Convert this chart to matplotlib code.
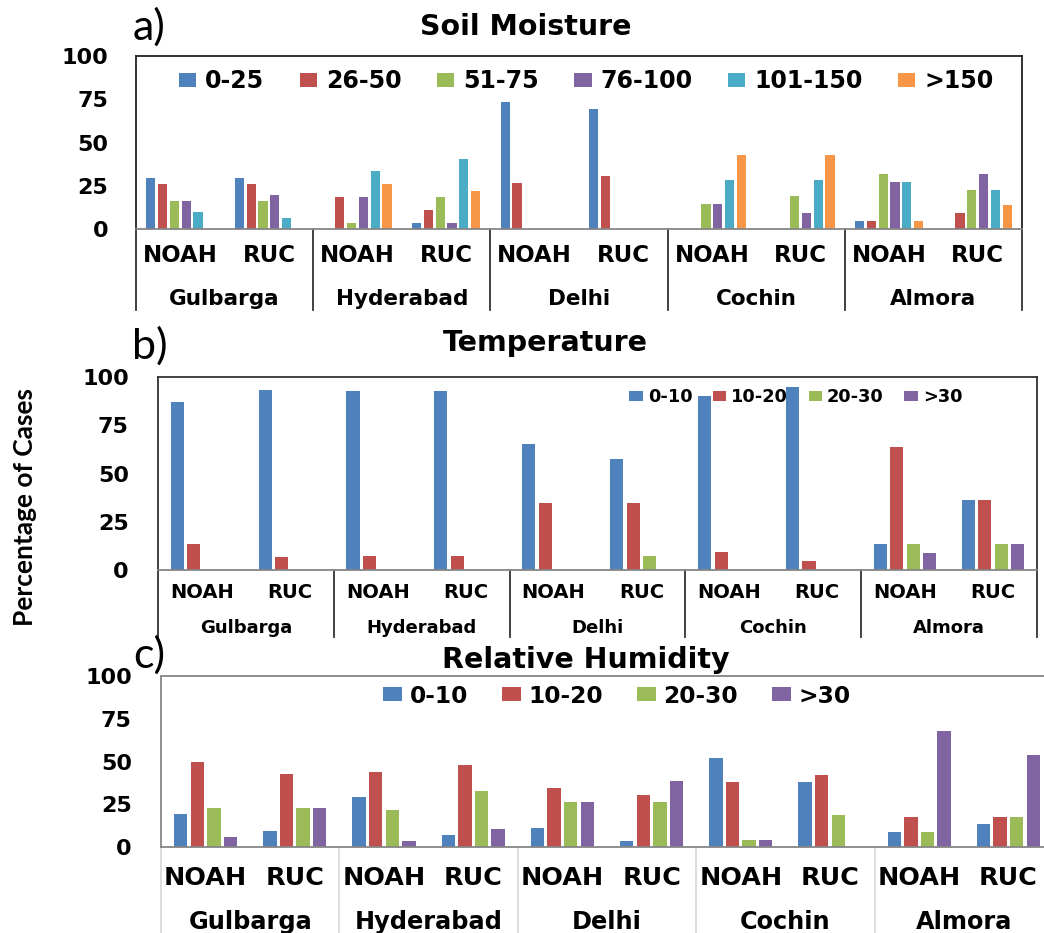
import numpy as np
import matplotlib
matplotlib.use('Agg')
import matplotlib.pyplot as plt

cities = ['Gulbarga', 'Hyderabad', 'Delhi', 'Cochin', 'Almora']
models = ['NOAH', 'RUC']

# columns: Gulbarga NOAH, Gulbarga RUC, Hyderabad NOAH, Hyderabad RUC, ...
soil_bins = ['0-25', '26-50', '51-75', '76-100', '101-150', '>150']
soil_0_25 = [29.6, 29.6, 0, 3.7, 73.3, 69.2, 0, 0, 4.5, 0]
soil_26_50 = [26.3, 26.3, 18.5, 11.1, 26.7, 30.8, 0, 0, 4.5, 9.1]
soil_51_75 = [16.3, 16.3, 3.7, 18.5, 0, 0, 14.3, 19.0, 31.8, 22.7]
soil_76_100 = [16.3, 19.6, 18.5, 3.7, 0, 0, 14.3, 9.5, 27.3, 31.8]
soil_101_150 = [9.7, 6.4, 33.3, 40.7, 0, 0, 28.6, 28.6, 27.3, 22.7]
soil_gt150 = [0, 0, 25.9, 22.2, 0, 0, 42.9, 42.9, 4.5, 13.6]

temp_bins = ['0-10', '10-20', '20-30', '>30']
temp_0_10 = [86.8, 93.1, 92.6, 92.6, 65.1, 57.6, 90.2, 95.0, 13.6, 36.4]
temp_10_20 = [13.6, 6.5, 7.4, 7.4, 34.5, 34.5, 9.5, 4.5, 63.6, 36.4]
temp_20_30 = [0, 0, 0, 0, 0, 7.4, 0, 0, 13.6, 13.6]
temp_gt30 = [0, 0, 0, 0, 0, 0, 0, 0, 9.0, 13.6]

rh_bins = ['0-10', '10-20', '20-30', '>30']
rh_0_10 = [19.4, 9.5, 29.5, 7.2, 11.2, 3.3, 52.2, 37.9, 8.9, 13.4]
rh_10_20 = [49.5, 42.7, 43.9, 47.8, 34.6, 30.7, 37.9, 42.3, 17.8, 17.8]
rh_20_30 = [22.9, 22.9, 21.7, 32.8, 26.6, 26.6, 4.3, 18.8, 8.9, 17.8]
rh_gt30 = [6.0, 22.9, 3.3, 10.5, 26.6, 38.5, 4.3, 0, 68.0, 54.0]

colors = ['#4F81BD', '#C0504D', '#9BBB59', '#8064A2', '#4BACC6', '#F79646']

W, H = 1044, 933
fig = plt.figure(figsize=(W / 100, H / 100), dpi=100)


def box(l, t, r, b):
    """pixel box -> figure fraction rect"""
    return [l / W, 1 - b / H, (r - l) / W, (b - t) / H]


def panel(rect, series, labels, step, width, tick_fs, tick_pad, cat_fs, city_fs,
          y_model, y_city, y_sep, sep_color, frame_color, leg):
    ax = fig.add_axes(rect)
    x = np.arange(len(cities) * len(models))
    n = len(series)
    for i, (vals, lab) in enumerate(zip(series, labels)):
        ax.bar(x + (i - (n - 1) / 2) * step, vals, width, color=colors[i],
               linewidth=0, label=lab, zorder=2)
    ax.set_xlim(-0.5, 9.5)
    ax.set_ylim(0, 100)
    ax.set_yticks([0, 25, 50, 75, 100])
    ax.set_xticks([])
    ax.tick_params(axis='y', length=0, pad=tick_pad, labelsize=tick_fs)
    for t in ax.get_yticklabels():
        t.set_fontweight('bold')
    for s in ['top', 'left', 'right']:
        ax.spines[s].set_color(frame_color)
        ax.spines[s].set_linewidth(1.3)
    ax.spines['bottom'].set_color('#868686')
    ax.spines['bottom'].set_linewidth(1.3)
    tr = ax.get_xaxis_transform()
    for xi in x:
        ax.text(xi, y_model, models[xi % 2], transform=tr, ha='center', va='center',
                fontsize=cat_fs, fontweight='bold', clip_on=False)
    for k, c in enumerate(cities):
        ax.text(2 * k + 0.5, y_city, c, transform=tr, ha='center', va='center',
                fontsize=city_fs, fontweight='bold', clip_on=False)
    for b in np.arange(-0.5, 10, 2):
        ax.plot([b, b], [0, y_sep], transform=tr, color=sep_color, lw=1.3, clip_on=False)
    lx, ly, lfs, hl, hh, tp, cs = leg
    ax.legend(loc='center left', bbox_to_anchor=(lx, ly), ncol=n, frameon=False,
              prop={'weight': 'bold', 'size': lfs}, handlelength=hl, handleheight=hh,
              handletextpad=tp, columnspacing=cs, borderpad=0, borderaxespad=0)
    return ax


axa = panel(box(136, 56, 1022, 229),
            [soil_0_25, soil_26_50, soil_51_75, soil_76_100, soil_101_150, soil_gt150],
            soil_bins, 0.133, 0.105, 16, 20, 16.5, 15.5,
            -0.156, -0.405, -0.468, '#333333', '#222222',
            (0.0485, 0.855, 17, 0.74, 0.55, 0.37, 1.5))

axb = panel(box(158, 377, 1037, 570),
            [temp_0_10, temp_10_20, temp_20_30, temp_gt30],
            temp_bins, 0.1877, 0.148, 16, 21, 14, 13,
            -0.119, -0.30, -0.347, '#333333', '#333333',
            (0.536, 0.895, 12.8, 0.76, 0.5, 0.28, 1.15))

axc = panel(box(161, 676, 1053, 847),
            [rh_0_10, rh_10_20, rh_20_30, rh_gt30],
            rh_bins, 0.186, 0.149, 16, 21, 18.3, 17.3,
            -0.18, -0.44, -0.6, '#d9d9d9', '#868686',
            (0.249, 0.882, 16.8, 0.8, 0.55, 0.34, 1.45))
axc.spines['right'].set_visible(False)


def ftxt(px, py, s, **kw):
    fig.text(px / W, 1 - py / H, s, ha='center', va='center', **kw)


# titles and panel letters
ftxt(526, 27, 'Soil Moisture', fontsize=20.5, fontweight='bold')
ftxt(545, 343, 'Temperature', fontsize=20.5, fontweight='bold')
ftxt(586, 660, 'Relative Humidity', fontsize=20.5, fontweight='bold')
ftxt(149, 27, 'a)', fontsize=31, family='Lato')
ftxt(150, 346, 'b)', fontsize=31, family='Lato')
ftxt(149, 655, 'c)', fontsize=31, family='Lato')
fig.text(25 / W, 1 - 507 / H, 'Percentage of Cases', rotation=90, ha='center',
         va='center', fontsize=19, family='Lato', fontweight='bold')

fig.savefig('out.png', dpi=100)
